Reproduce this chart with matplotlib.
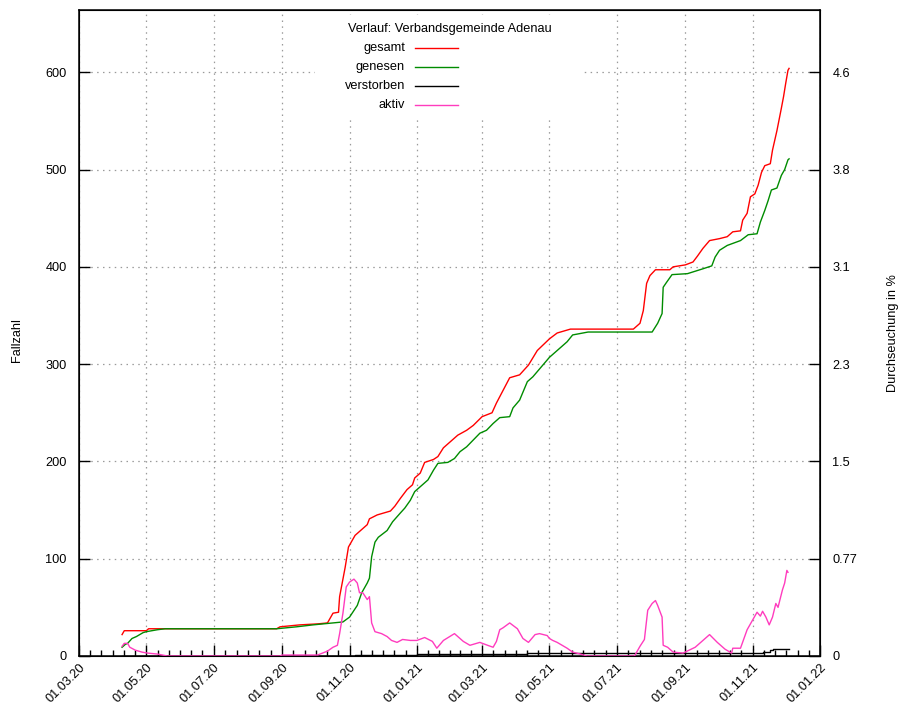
import matplotlib
matplotlib.use("Agg")
import matplotlib.pyplot as plt
import matplotlib.dates as mdates
from matplotlib.lines import Line2D
from matplotlib.patches import Rectangle
import pandas as pd
import numpy as np

plt.rcParams['font.family'] = ['Liberation Sans', 'DejaVu Sans']
plt.rcParams['font.size'] = 9.2

# Verlauf der Fallzahlen, Verbandsgemeinde Adenau
gesamt_datum = ["2020-04-09", "2020-04-11", "2020-05-01", "2020-05-03", "2020-08-27", "2020-08-30",
                "2020-09-17", "2020-10-03", "2020-10-12", "2020-10-17", "2020-10-22", "2020-10-23",
                "2020-10-28", "2020-10-31", "2020-11-06", "2020-11-17", "2020-11-19", "2020-11-26",
                "2020-12-08", "2020-12-12", "2020-12-17", "2020-12-23", "2020-12-28", "2020-12-30",
                "2021-01-04", "2021-01-08", "2021-01-16", "2021-01-20", "2021-01-25", "2021-02-02",
                "2021-02-07", "2021-02-15", "2021-02-21", "2021-03-01", "2021-03-10", "2021-03-14",
                "2021-03-20", "2021-03-26", "2021-04-04", "2021-04-12", "2021-04-20", "2021-05-01",
                "2021-05-08", "2021-05-20", "2021-07-16", "2021-07-22", "2021-07-25", "2021-07-28",
                "2021-07-31", "2021-08-05", "2021-08-18", "2021-08-21", "2021-09-01", "2021-09-08",
                "2021-09-12", "2021-09-17", "2021-09-23", "2021-10-02", "2021-10-09", "2021-10-14",
                "2021-10-21", "2021-10-23", "2021-10-27", "2021-10-30", "2021-11-03", "2021-11-06",
                "2021-11-09", "2021-11-12", "2021-11-17", "2021-11-19", "2021-11-23", "2021-11-27",
                "2021-11-29", "2021-12-01", "2021-12-03", "2021-12-04"]
gesamt = [22, 26, 26, 28, 28, 30,
          32, 33, 34, 44, 45, 61,
          91, 112, 124, 135, 141, 145,
          149, 154, 162, 171, 176, 183,
          188, 199, 202, 205, 214, 222,
          227, 232, 237, 246, 250, 260,
          273, 286, 289, 299, 314, 326,
          332, 336, 336, 342, 355, 383,
          391, 397, 397, 400, 402, 405,
          411, 419, 427, 429, 431, 436,
          437, 448, 455, 472, 475, 484,
          497, 504, 506, 520, 540, 563,
          575, 589, 602, 604]

genesen_datum = ["2020-04-09", "2020-04-12", "2020-04-14", "2020-04-18", "2020-04-22", "2020-04-28",
                 "2020-05-01", "2020-05-11", "2020-05-18", "2020-08-27", "2020-09-14", "2020-09-29",
                 "2020-10-17", "2020-10-26", "2020-11-01", "2020-11-08", "2020-11-12", "2020-11-17",
                 "2020-11-19", "2020-11-21", "2020-11-24", "2020-11-27", "2020-12-05", "2020-12-10",
                 "2020-12-17", "2020-12-21", "2020-12-26", "2020-12-30", "2021-01-06", "2021-01-11",
                 "2021-01-16", "2021-01-20", "2021-01-29", "2021-02-04", "2021-02-09", "2021-02-15",
                 "2021-02-21", "2021-02-27", "2021-03-05", "2021-03-11", "2021-03-17", "2021-03-26",
                 "2021-03-29", "2021-04-04", "2021-04-11", "2021-04-16", "2021-04-25", "2021-05-01",
                 "2021-05-08", "2021-05-17", "2021-05-22", "2021-06-05", "2021-08-02", "2021-08-07",
                 "2021-08-11", "2021-08-12", "2021-08-15", "2021-08-20", "2021-09-03", "2021-09-17",
                 "2021-09-25", "2021-09-28", "2021-10-02", "2021-10-09", "2021-10-21", "2021-10-28",
                 "2021-11-05", "2021-11-08", "2021-11-12", "2021-11-15", "2021-11-18", "2021-11-23",
                 "2021-11-27", "2021-11-30", "2021-12-03", "2021-12-04"]
genesen = [9, 12, 13, 18, 20, 24,
           25, 27, 28, 28, 30, 32,
           34, 35, 40, 52, 65, 75,
           80, 102, 117, 122, 129, 138,
           147, 152, 160, 169, 176, 181,
           191, 198, 199, 203, 210, 215,
           222, 229, 232, 239, 245, 246,
           255, 263, 282, 287, 299, 307,
           314, 323, 330, 333, 333, 342,
           352, 379, 384, 392, 393, 398,
           401, 410, 417, 422, 427, 433,
           434, 446, 458, 468, 479, 481,
           494, 500, 510, 511]

verstorben_datum = ["2020-04-09", "2020-11-06", "2021-01-01", "2021-04-11", "2021-11-10",
                    "2021-11-17", "2021-11-19", "2021-12-04"]
verstorben = [0, 1, 2, 3, 4, 6, 7, 7]

aktiv_datum = ["2020-04-09", "2020-04-11", "2020-04-14", "2020-04-16", "2020-04-21", "2020-04-27",
               "2020-05-02", "2020-05-11", "2020-05-20", "2020-08-30", "2020-09-01", "2020-10-03",
               "2020-10-12", "2020-10-17", "2020-10-21", "2020-10-23", "2020-10-26", "2020-10-29",
               "2020-11-01", "2020-11-05", "2020-11-08", "2020-11-10", "2020-11-13", "2020-11-17",
               "2020-11-19", "2020-11-21", "2020-11-24", "2020-11-30", "2020-12-05", "2020-12-09",
               "2020-12-14", "2020-12-19", "2020-12-26", "2021-01-01", "2021-01-08", "2021-01-15",
               "2021-01-19", "2021-01-25", "2021-02-04", "2021-02-12", "2021-02-18", "2021-02-27",
               "2021-03-06", "2021-03-11", "2021-03-14", "2021-03-17", "2021-03-20", "2021-03-26",
               "2021-04-02", "2021-04-07", "2021-04-12", "2021-04-18", "2021-04-22", "2021-04-29",
               "2021-05-01", "2021-05-04", "2021-05-08", "2021-05-17", "2021-05-22", "2021-05-29",
               "2021-06-04", "2021-07-17", "2021-07-22", "2021-07-26", "2021-07-29", "2021-08-02",
               "2021-08-05", "2021-08-07", "2021-08-11", "2021-08-12", "2021-08-16", "2021-08-21",
               "2021-08-30", "2021-09-10", "2021-09-17", "2021-09-23", "2021-09-30", "2021-10-07",
               "2021-10-13", "2021-10-14", "2021-10-21", "2021-10-27", "2021-11-01", "2021-11-05",
               "2021-11-08", "2021-11-10", "2021-11-13", "2021-11-16", "2021-11-19", "2021-11-22",
               "2021-11-24", "2021-11-28", "2021-11-30", "2021-12-02", "2021-12-03"]
aktiv = [10, 13, 13, 9, 6, 4,
         3, 2, 0, 0, 1, 1,
         5, 9, 11, 23, 44, 71,
         76, 79, 75, 65, 65, 58,
         61, 34, 25, 23, 20, 16,
         14, 17, 16, 16, 19, 15,
         8, 16, 23, 15, 11, 14,
         11, 9, 15, 27, 29, 34,
         28, 18, 14, 22, 23, 21,
         18, 16, 14, 8, 4, 2,
         0, 0, 10, 17, 47, 54,
         57, 52, 40, 11, 9, 4,
         3, 9, 16, 22, 14, 7,
         3, 8, 8, 27, 37, 45,
         41, 46, 40, 32, 40, 54,
         50, 68, 75, 88, 86]

# Achsen
achse_start = "2020-03-01"
achse_ende = "2022-01-01"
x_ticks = ["2020-03-01", "2020-05-01", "2020-07-01", "2020-09-01", "2020-11-01", "2021-01-01",
           "2021-03-01", "2021-05-01", "2021-07-01", "2021-09-01", "2021-11-01", "2022-01-01"]
y_ticks = [0, 100, 200, 300, 400, 500, 600]
y2_labels = ["0", "0.77", "1.5", "2.3", "3.1", "3.8", "4.6"]

fig = plt.figure(figsize=(8.99, 7.05), dpi=100)
ax = fig.add_axes([79 / 899, 49 / 705, 741 / 899, 646 / 705])

ax.plot(pd.to_datetime(gesamt_datum), gesamt, color='#ff0000', lw=1.0, zorder=3)
ax.plot(pd.to_datetime(genesen_datum), genesen, color='#008c00', lw=1.0, zorder=3)
ax.plot(pd.to_datetime(verstorben_datum), verstorben, color='#000000', lw=1.0,
        drawstyle='steps-post', zorder=3)
ax.plot(pd.to_datetime(aktiv_datum), aktiv, color='#ff3cbe', lw=1.0, zorder=3)

ax.set_xlim(pd.Timestamp(achse_start), pd.Timestamp(achse_ende))
ax.set_ylim(0, 664)

major = mdates.date2num(pd.to_datetime(x_ticks))
minor = []
for a, b in zip(major[:-1], major[1:]):
    minor.extend(np.linspace(a, b, 7)[1:-1])
ax.set_xticks(major)
ax.set_xticks(minor, minor=True)
ax.xaxis.set_major_formatter(mdates.DateFormatter('%d.%m.%y'))
for lab in ax.get_xticklabels():
    lab.set_rotation(45)
    lab.set_ha('right')
    lab.set_va('top')
    lab.set_rotation_mode('anchor')

ax.set_yticks(y_ticks)
ax.tick_params(axis='both', which='major', direction='in', length=8, width=1.0, top=False)
ax.tick_params(axis='x', which='minor', direction='in', length=4, width=1.0, top=False)
ax.tick_params(axis='y', which='major', pad=9, right=False)
ax.tick_params(axis='x', which='major', pad=4)

ax.grid(True, which='major', color='#9a9a9a', linestyle=(0, (1.2, 3.5)), linewidth=0.9)
for s in ax.spines.values():
    s.set_linewidth(1.1)

ax2 = ax.twinx()
ax2.set_ylim(ax.get_ylim())
ax2.set_yticks(y_ticks)
ax2.set_yticklabels(y2_labels)
ax2.tick_params(axis='y', direction='in', length=8, width=1.0, pad=9)

# Legende mit deckendem Hintergrund
ax.add_patch(Rectangle((0.3185, 0.8344), 0.3603, 0.1579, transform=ax.transAxes,
                       facecolor='white', edgecolor='none', zorder=1.8))
ax.text(0.5007, 0.9706, "Verlauf: Verbandsgemeinde Adenau", transform=ax.transAxes,
        ha='center', va='center', zorder=4)
eintraege = [("gesamt", '#ff0000'), ("genesen", '#008c00'),
             ("verstorben", '#000000'), ("aktiv", '#ff3cbe')]
for i, (name, farbe) in enumerate(eintraege):
    yy = 0.9412 - i * 0.0294
    ax.text(0.440, yy, name, transform=ax.transAxes, ha='right', va='center', zorder=4)
    ax.add_line(Line2D([0.4534, 0.5115], [yy, yy], transform=ax.transAxes,
                       color=farbe, lw=1.0, zorder=4))

fig.text(17 / 899, 1 - 340 / 705, "Fallzahl", rotation=90, ha='center', va='center')
fig.text(893 / 899, 1 - 333 / 705, "Durchseuchung in %", rotation=90, ha='center', va='center')

fig.savefig("out.png", dpi=100)
